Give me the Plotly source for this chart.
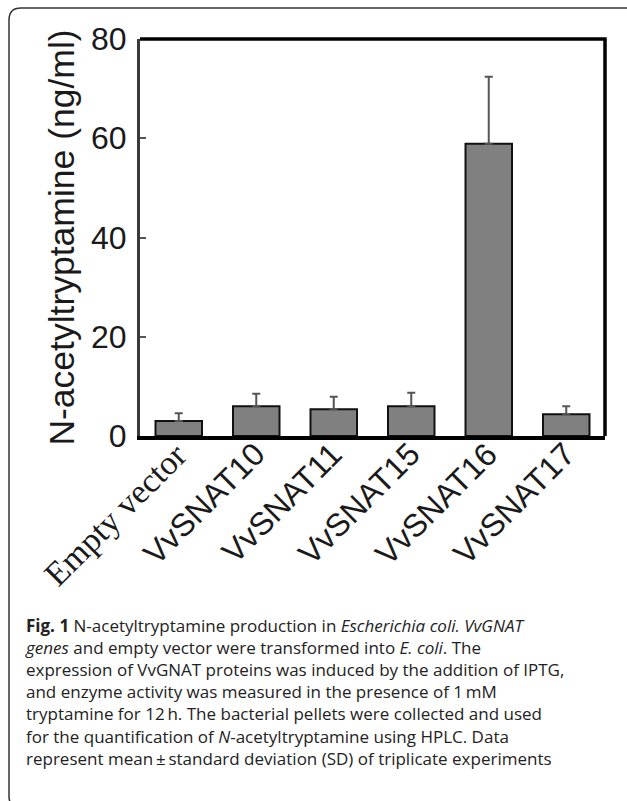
import plotly.graph_objects as go

categories = ["Empty vector", "VvSNAT10", "VvSNAT11", "VvSNAT15", "VvSNAT16", "VvSNAT17"]
means = [3.0, 6.0, 5.4, 6.0, 58.9, 4.4]
sds = [1.6, 2.5, 2.5, 2.7, 13.5, 1.6]
y_ticks = [0, 20, 40, 60, 80]
caption_lines = [
    "<b>Fig. 1</b> N-acetyltryptamine production in <i>Escherichia coli. VvGNAT</i>",
    "<i>genes</i> and empty vector were transformed into <i>E. coli</i>. The",
    "expression of VvGNAT proteins was induced by the addition of IPTG,",
    "and enzyme activity was measured in the presence of 1\u2009mM",
    "tryptamine for 12\u2009h. The bacterial pellets were collected and used",
    "for the quantification of <i>N</i>-acetyltryptamine using HPLC. Data",
    "represent mean\u2009\u00b1\u2009standard deviation (SD) of triplicate experiments",
]

W, H = 627, 801
L, R, T, B = 140, 605, 39, 436


def px(x):
    return (x - L) / (R - L)


def py(y):
    return (B - y) / (B - T)


xpos = list(range(len(categories)))

fig = go.Figure()
fig.add_trace(go.Bar(
    x=xpos, y=means, width=0.6,
    marker=dict(color="#808080", line=dict(color="#111111", width=2)),
    error_y=dict(type="data", symmetric=False, array=sds, arrayminus=[0] * len(sds),
                 color="#555555", thickness=2, width=4),
))

# category labels, rotated
for i, c in enumerate(categories):
    fam = "Liberation Serif" if i == 0 else "Liberation Sans"
    size = 34 if i == 0 else 32
    fig.add_annotation(text=c, x=xpos[i], xref="x", y=py(433), yref="paper",
                       xanchor="right", yanchor="top", textangle=-45, showarrow=False,
                       xshift=18, font=dict(family=fam, size=size, color="#1a1a1a"))

# outer rounded frame
x0, y0, x1, y1, r = 9, 8, 638, 808, 12
path = (f"M {px(x0)},{py(y0 + r)} Q {px(x0)},{py(y0)} {px(x0 + r)},{py(y0)} "
        f"L {px(x1 - r)},{py(y0)} Q {px(x1)},{py(y0)} {px(x1)},{py(y0 + r)} "
        f"L {px(x1)},{py(y1 - r)} Q {px(x1)},{py(y1)} {px(x1 - r)},{py(y1)} "
        f"L {px(x0 + r)},{py(y1)} Q {px(x0)},{py(y1)} {px(x0)},{py(y1 - r)} Z")
fig.add_shape(type="path", path=path, xref="paper", yref="paper",
              line=dict(color="#333333", width=1.5), layer="below")
# top and right frame of plot
fig.add_shape(type="path", path="M 0,1 L 1,1 L 1,0", xref="paper", yref="paper",
              line=dict(color="#000000", width=3.5))

fig.add_annotation(text="<br>".join(caption_lines), xref="paper", yref="paper",
                   x=px(23), y=py(612), xanchor="left", yanchor="top", align="left",
                   showarrow=False, font=dict(family="Open Sans", size=17, color="#222222"))

fig.update_layout(
    width=W, height=H,
    margin=dict(l=L, r=W - R, t=T, b=H - B),
    paper_bgcolor="white", plot_bgcolor="white",
    showlegend=False,
    font=dict(family="Liberation Sans", color="#1a1a1a"),
)
fig.update_xaxes(range=[-0.5, len(categories) - 0.5], showline=True, linecolor="#000000",
                 linewidth=3.5, ticks="", showticklabels=False, showgrid=False, zeroline=False)
fig.update_yaxes(range=[0, 80], tickvals=y_ticks, showline=True, linecolor="#3a3a3a",
                 linewidth=3, ticks="inside", ticklen=6, tickwidth=2, tickcolor="#555555",
                 tickfont=dict(size=32), showgrid=False, zeroline=False,
                 ticklabelstandoff=4,
                 title=dict(text="N-acetyltryptamine (ng/ml)", font=dict(size=35.5), standoff=6))

fig.write_html("out.html", config={"displayModeBar": False},
               post_script="document.body.style.margin='0';")
